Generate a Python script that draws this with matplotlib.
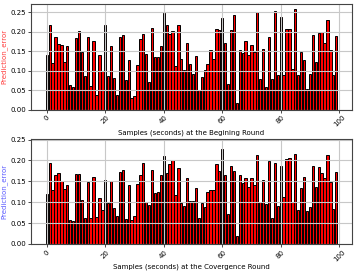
import matplotlib
matplotlib.use("Agg")
import matplotlib.pyplot as plt
import numpy as np

samples = np.arange(100)

begin_error = [
    0.140, 0.218, 0.120, 0.187, 0.168, 0.167, 0.122, 0.163, 0.062, 0.059,
    0.183, 0.201, 0.148, 0.086, 0.187, 0.061, 0.176, 0.037, 0.140, 0.100,
    0.217, 0.087, 0.164, 0.080, 0.038, 0.187, 0.192, 0.075, 0.127, 0.029,
    0.036, 0.114, 0.181, 0.193, 0.143, 0.070, 0.209, 0.136, 0.135, 0.163,
    0.249, 0.218, 0.193, 0.201, 0.113, 0.218, 0.131, 0.102, 0.171, 0.116,
    0.091, 0.138, 0.049, 0.083, 0.102, 0.117, 0.153, 0.129, 0.207, 0.204,
    0.234, 0.172, 0.065, 0.204, 0.242, 0.016, 0.153, 0.145, 0.176, 0.140,
    0.165, 0.148, 0.250, 0.078, 0.155, 0.058, 0.187, 0.079, 0.253, 0.089,
    0.238, 0.089, 0.207, 0.207, 0.104, 0.258, 0.089, 0.147, 0.127, 0.052,
    0.091, 0.191, 0.121, 0.197, 0.199, 0.172, 0.229, 0.153, 0.089, 0.189,
]

converge_error = [
    0.119, 0.195, 0.129, 0.166, 0.171, 0.150, 0.131, 0.140, 0.058, 0.054,
    0.167, 0.167, 0.105, 0.063, 0.149, 0.063, 0.160, 0.064, 0.109, 0.081,
    0.153, 0.097, 0.150, 0.085, 0.068, 0.173, 0.176, 0.059, 0.140, 0.058,
    0.068, 0.144, 0.164, 0.193, 0.101, 0.094, 0.178, 0.121, 0.124, 0.166,
    0.210, 0.171, 0.191, 0.200, 0.117, 0.182, 0.097, 0.091, 0.158, 0.104,
    0.104, 0.135, 0.063, 0.097, 0.089, 0.124, 0.128, 0.129, 0.191, 0.174,
    0.228, 0.166, 0.072, 0.186, 0.174, 0.020, 0.165, 0.146, 0.159, 0.137,
    0.157, 0.142, 0.212, 0.101, 0.152, 0.096, 0.198, 0.062, 0.193, 0.092,
    0.186, 0.113, 0.203, 0.206, 0.101, 0.216, 0.081, 0.133, 0.160, 0.078,
    0.088, 0.187, 0.136, 0.185, 0.169, 0.158, 0.213, 0.149, 0.084, 0.173,
]

panels = [
    (begin_error, "Samples (seconds) at the Begining Round", "#ff3b3b", None),
    (converge_error, "Samples (seconds) at the Covergence Round", "#5a5aff", 0.2525),
]

fig, axes = plt.subplots(2, 1, figsize=(3.57, 2.75), dpi=100)
fig.subplots_adjust(left=0.087, right=0.986, top=0.985, bottom=0.113, hspace=0.275)

for ax, (values, xlabel, ycol, ytop) in zip(axes, panels):
    ax.bar(samples, values, width=0.8, color="red", edgecolor="black", linewidth=0.7)
    ax.grid(True, color="#c8c8c8", linewidth=0.8)
    ax.set_xlabel(xlabel, fontsize=5, labelpad=1)
    ax.set_ylabel("Prediction_error", fontsize=5, color=ycol, labelpad=2)
    ax.set_xticks([0, 20, 40, 60, 80, 100])
    ax.set_yticks([0.0, 0.05, 0.10, 0.15, 0.20, 0.25])
    ax.tick_params(labelsize=5, length=2, width=0.5, pad=1.5)
    plt.setp(ax.get_xticklabels(), rotation=45)
    if ytop is not None:
        ax.set_ylim(0, ytop)
    for spine in ax.spines.values():
        spine.set_color("#444444")
        spine.set_linewidth(0.8)

fig.savefig("out.png", dpi=100)
